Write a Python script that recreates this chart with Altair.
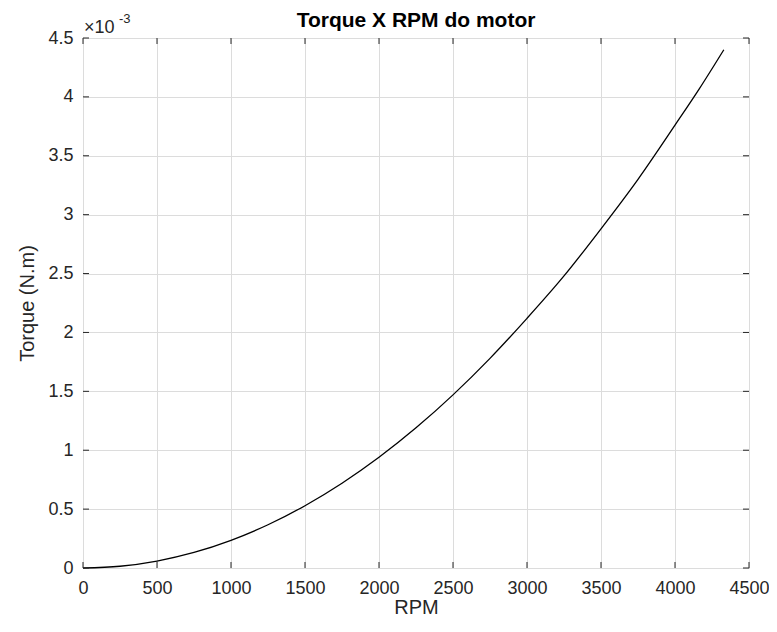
import altair as alt
import pandas as pd

rpm = [0, 250, 500, 750, 1000, 1250, 1500, 1750, 2000, 2250, 2500, 2750,
       3000, 3250, 3500, 3750, 4000, 4165, 4330]
torque_e3 = [0.0, 0.015, 0.059, 0.132, 0.235, 0.367, 0.529, 0.72, 0.94, 1.19,
             1.47, 1.78, 2.12, 2.48, 2.88, 3.30, 3.76, 4.07, 4.40]
x_ticks = [0, 500, 1000, 1500, 2000, 2500, 3000, 3500, 4000, 4500]
y_ticks = [0, 0.5, 1, 1.5, 2, 2.5, 3, 3.5, 4, 4.5]
title_text = "Torque X RPM do motor"

W, H = 666, 530
df = pd.DataFrame({"rpm": rpm, "torque": torque_e3})
xt = pd.DataFrame({"v": x_ticks})
yt = pd.DataFrame({"v": y_ticks})

xs = alt.Scale(domain=[0, 4500], nice=False, zero=False)
ys = alt.Scale(domain=[0, 4.5], nice=False, zero=False)

lab = "#262626"
FONT = "Liberation Sans"
xaxis = alt.Axis(values=x_ticks, title="RPM", grid=True, gridColor="#dcdcdc",
                 domain=False, ticks=False, labelFontSize=18, labelColor=lab,
                 labelPadding=11, titleFontSize=20, titleColor=lab, titleFontWeight="normal",
                 titlePadding=0, labelFont=FONT, titleFont=FONT, format="d",
                 labelFlush=False)
yaxis = alt.Axis(values=y_ticks, title="Torque (N.m)", grid=True, gridColor="#dcdcdc",
                 domain=False, ticks=False, labelFontSize=18, labelColor=lab,
                 labelPadding=10, titleFontSize=20, titleColor=lab, titleFontWeight="normal",
                 titlePadding=10, labelFont=FONT, titleFont=FONT, format="~g",
                 labelFlush=False)

base_line = alt.Chart(df).mark_line(color="black", strokeWidth=1.3, interpolate="monotone").encode(
    x=alt.X("rpm:Q", scale=xs, axis=xaxis),
    y=alt.Y("torque:Q", scale=ys, axis=yaxis),
)

tick_len = 6
xt_bot = alt.Chart(xt).mark_rule(color=lab, strokeWidth=1).encode(
    x=alt.X("v:Q", scale=xs), y=alt.value(H), y2=alt.value(H - tick_len))
xt_top = alt.Chart(xt).mark_rule(color=lab, strokeWidth=1).encode(
    x=alt.X("v:Q", scale=xs), y=alt.value(0), y2=alt.value(tick_len))
yt_left = alt.Chart(yt).mark_rule(color=lab, strokeWidth=1).encode(
    y=alt.Y("v:Q", scale=ys), x=alt.value(0), x2=alt.value(tick_len))
yt_right = alt.Chart(yt).mark_rule(color=lab, strokeWidth=1).encode(
    y=alt.Y("v:Q", scale=ys), x=alt.value(W), x2=alt.value(W - tick_len))

txt_df = pd.DataFrame({"t": ["\u00d710"], "e": ["-3"], "title": [title_text]})
mult = alt.Chart(txt_df).mark_text(align="left", baseline="alphabetic", fontSize=18,
                                   color=lab, font=FONT).encode(
    text="t:N", x=alt.value(1), y=alt.value(-5))
expo = alt.Chart(txt_df).mark_text(align="left", baseline="alphabetic", fontSize=13,
                                   color=lab, font=FONT).encode(
    text="e:N", x=alt.value(36), y=alt.value(-15))
ttl = alt.Chart(txt_df).mark_text(align="center", baseline="alphabetic", fontSize=21,
                                  fontWeight="bold", color="black", font=FONT).encode(
    text="title:N", x=alt.value(W / 2), y=alt.value(-11))

chart = alt.layer(base_line, xt_bot, xt_top, yt_left, yt_right, mult, expo, ttl).properties(
    width=W, height=H,
    autosize=alt.AutoSizeParams(type="none"),
    padding={"left": 75, "top": 30, "right": 20, "bottom": 50},
).configure_view(stroke=lab, strokeWidth=1).configure(background="white")

chart.save("out.html", embed_options={"renderer": "svg", "actions": False})
